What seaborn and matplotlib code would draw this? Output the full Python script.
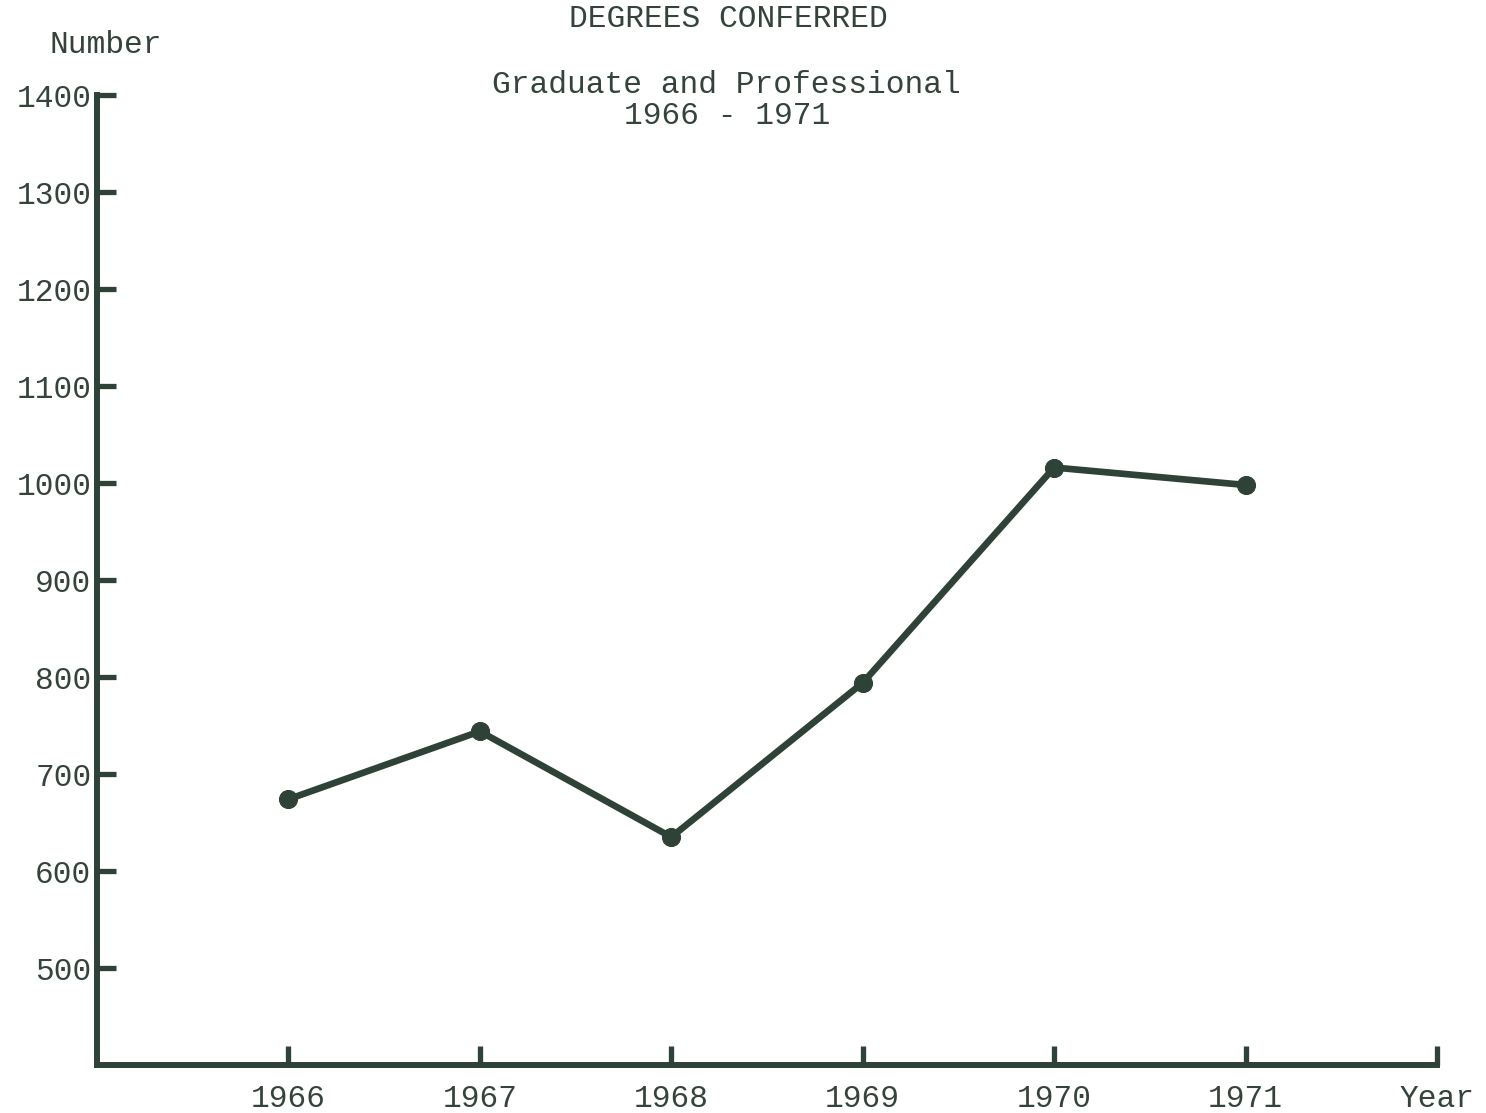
import matplotlib
matplotlib.use("Agg")
import matplotlib.pyplot as plt
import pandas as pd
import seaborn as sns

sns.set_style("white")
plt.rcParams["font.family"] = ["Liberation Mono", "DejaVu Sans Mono"]

# Data
years = [1966, 1967, 1968, 1969, 1970, 1971]
degrees = [674, 744, 635, 794, 1016, 998]
y_ticks = [500, 600, 700, 800, 900, 1000, 1100, 1200, 1300, 1400]
x_ticks = [1966, 1967, 1968, 1969, 1970, 1971, 1972]
x_labels = ["1966", "1967", "1968", "1969", "1970", "1971", "Year"]

ink = "#2e4238"
text_ink = "#34443b"
fs = 22.5

df = pd.DataFrame({"year": years, "degrees": degrees})

fig = plt.figure(figsize=(14.86, 11.13), dpi=100)
ax = fig.add_axes([0.0653, 0.0431, 0.9017, 0.8715])

sns.lineplot(data=df, x="year", y="degrees", ax=ax, color=ink, linewidth=4.8,
             marker="o", markersize=13, markeredgecolor=ink, markerfacecolor=ink)

ax.set_xlim(1965, 1972)
ax.set_ylim(400, 1400)
ax.set_xticks(x_ticks)
ax.set_xticklabels(x_labels)
ax.set_yticks(y_ticks)
ax.set_xlabel("")
ax.set_ylabel("")

for side in ["top", "right"]:
    ax.spines[side].set_visible(False)
for side in ["left", "bottom"]:
    ax.spines[side].set_linewidth(4.3)
    ax.spines[side].set_color(ink)
    ax.spines[side].set_capstyle("projecting")

ax.tick_params(axis="both", direction="in", length=14, width=3.8, color=ink,
               labelsize=fs, labelcolor=text_ink, bottom=True, left=True)
ax.tick_params(axis="y", pad=4)
ax.tick_params(axis="x", pad=14)

fig.text(0.490, 0.983, "DEGREES CONFERRED", ha="center", va="center",
         fontsize=fs, color=text_ink)
fig.text(0.489, 0.924, "Graduate and Professional", ha="center", va="center",
         fontsize=fs, color=text_ink)
fig.text(0.489, 0.896, "1966 - 1971", ha="center", va="center",
         fontsize=fs, color=text_ink)
fig.text(0.071, 0.960, "Number", ha="center", va="center",
         fontsize=fs, color=text_ink)

fig.savefig("out.png", dpi=100, facecolor="white")
